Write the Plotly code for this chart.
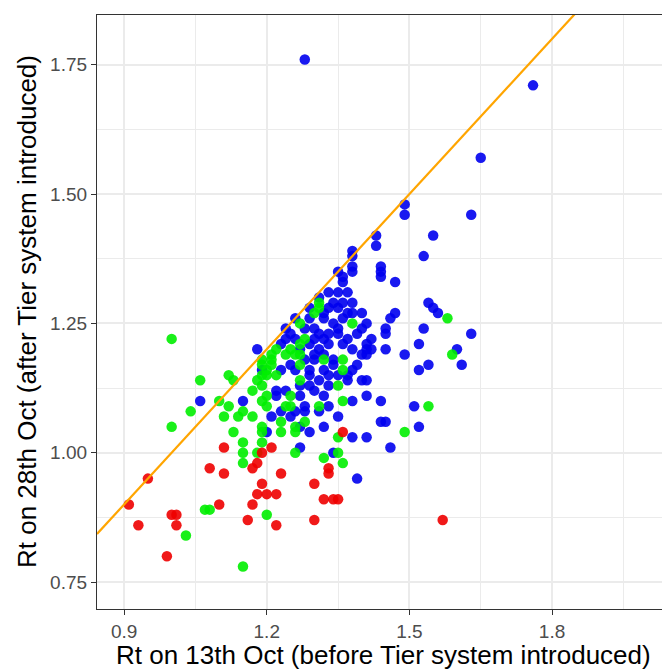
import plotly.graph_objects as go

# ---- data ----
blue_x = [1.28, 1.76, 1.65, 1.49, 1.49, 1.63, 1.43, 1.43, 1.55, 1.53, 1.38, 1.38, 1.44, 1.44, 1.44,
          1.38, 1.38, 1.47, 1.35, 1.36, 1.36, 1.33, 1.35, 1.37, 1.34, 1.38, 1.54, 1.55, 1.56, 1.47,
          1.46, 1.40, 1.41, 1.40, 1.45, 1.45, 1.53, 1.63, 1.52, 1.60, 1.61, 1.54, 1.52, 1.49, 1.45,
          1.42, 1.41, 1.40, 1.41, 1.37, 1.36, 1.40, 1.41, 1.38, 1.41, 1.44, 1.32, 1.51, 1.44, 1.45,
          1.52, 1.38, 1.41, 1.46, 1.34, 1.39, 1.31, 1.28, 1.18, 1.24, 1.26, 1.29, 1.32, 1.32, 1.36,
          1.35, 1.35, 1.30, 1.31, 1.30, 1.32, 1.33, 1.42, 1.41, 1.06, 1.15, 1.20, 1.21, 1.27, 1.27,
          1.22, 1.22, 1.19, 1.26, 1.28, 1.29, 1.24, 1.27, 1.34, 1.37, 1.37, 1.25, 1.32, 1.35, 1.27,
          1.29, 1.31, 1.33, 1.30, 1.29, 1.31, 1.33, 1.28, 1.26, 1.24, 1.25, 1.29, 1.35, 1.36, 1.38,
          1.23, 1.23, 1.30, 1.33, 1.35, 1.29, 1.32, 1.25, 1.23, 1.26, 1.28, 1.30, 1.32, 1.34, 1.29,
          1.33, 1.27, 1.34, 1.37, 1.33, 1.31, 1.39, 1.38, 1.39, 1.38]
blue_y = [1.76, 1.71, 1.57, 1.48, 1.46, 1.46, 1.42, 1.40, 1.42, 1.38, 1.39, 1.38, 1.36, 1.35, 1.34,
          1.36, 1.35, 1.33, 1.35, 1.34, 1.33, 1.31, 1.31, 1.31, 1.29, 1.29, 1.29, 1.28, 1.27, 1.27,
          1.26, 1.27, 1.25, 1.24, 1.24, 1.23, 1.24, 1.23, 1.21, 1.20, 1.17, 1.17, 1.16, 1.19, 1.20,
          1.22, 1.21, 1.19, 1.20, 1.22, 1.21, 1.14, 1.14, 1.10, 1.11, 1.10, 1.11, 1.09, 1.06, 1.06,
          1.05, 1.03, 1.03, 1.01, 1.00, 0.95, 1.08, 1.08, 1.20, 1.24, 1.26, 1.28, 1.27, 1.26, 1.26,
          1.24, 1.23, 1.24, 1.23, 1.22, 1.22, 1.23, 1.20, 1.19, 1.10, 1.10, 1.04, 1.07, 1.05, 1.01,
          1.12, 1.11, 1.16, 1.08, 1.09, 1.13, 1.12, 1.11, 1.18, 1.15, 1.14, 1.17, 1.16, 1.15, 1.20,
          1.21, 1.20, 1.21, 1.18, 1.16, 1.14, 1.13, 1.18, 1.16, 1.22, 1.23, 1.26, 1.28, 1.29, 1.27,
          1.21, 1.16, 1.12, 1.09, 1.07, 1.04, 1.05, 1.07, 1.08, 1.22, 1.24, 1.19, 1.19, 1.17, 1.15,
          1.15, 1.13, 1.25, 1.27, 1.28, 1.30, 1.23, 1.20, 1.17, 1.16]

green_x = [1.00, 1.00, 1.04, 1.06, 1.03, 1.07, 1.08, 1.15, 1.20, 1.10, 1.12, 1.11, 1.14, 1.15, 1.17,
           1.13, 1.15, 1.15, 1.15, 1.17, 1.12, 1.13, 1.19, 1.19, 1.19, 1.18, 1.23, 1.23, 1.26, 1.26,
           1.28, 1.26, 1.35, 1.32, 1.36, 1.35, 1.36, 1.35, 1.31, 1.25, 1.25, 1.24, 1.18, 1.19, 1.19,
           1.19, 1.21, 1.22, 1.20, 1.20, 1.19, 1.20, 1.19, 1.21, 1.21, 1.20, 1.22, 1.27, 1.30, 1.31,
           1.31, 1.25, 1.26, 1.27, 1.28, 1.27, 1.32, 1.36, 1.36, 1.27, 1.38, 1.58, 1.59, 1.54, 1.49,
           1.24, 1.27]
green_y = [1.22, 1.05, 1.08, 1.14, 0.84, 0.89, 0.89, 0.78, 0.88, 1.10, 1.09, 1.07, 1.07, 1.08, 1.07,
           1.04, 1.02, 1.00, 0.98, 1.12, 1.15, 1.14, 1.05, 1.04, 1.02, 1.00, 1.06, 1.04, 1.05, 1.04,
           1.06, 1.00, 1.00, 0.99, 0.98, 1.03, 1.10, 1.13, 1.09, 1.11, 1.09, 1.09, 1.14, 1.15, 1.13,
           1.18, 1.18, 1.15, 1.16, 1.11, 1.10, 1.09, 1.17, 1.19, 1.17, 1.15, 1.20, 1.25, 1.27, 1.28,
           1.29, 1.20, 1.19, 1.21, 1.22, 1.17, 1.18, 1.18, 1.16, 1.14, 1.25, 1.26, 1.19, 1.09, 1.04,
           1.19, 1.19]

red_x = [0.91, 0.95, 0.93, 0.99, 1.00, 1.01, 1.01, 1.10, 1.08, 1.11, 1.11, 1.16, 1.17, 1.18, 1.20,
         1.22, 1.19, 1.23, 1.17, 1.18, 1.19, 1.21, 1.22, 1.30, 1.30, 1.32, 1.34, 1.35, 1.33, 1.33,
         1.36, 1.57]
red_y = [0.90, 0.95, 0.86, 0.80, 0.88, 0.88, 0.86, 0.90, 0.97, 0.96, 1.01, 0.87, 0.90, 0.92, 0.92,
         0.92, 0.94, 0.96, 0.97, 0.98, 1.00, 1.01, 0.86, 0.94, 0.87, 0.91, 0.91, 0.91, 0.97, 0.96,
         1.04, 0.87]

x_ticks = [0.9, 1.2, 1.5, 1.8]
x_tick_labels = ["0.9", "1.2", "1.5", "1.8"]
x_minor = [1.05, 1.35, 1.65, 1.95]
y_ticks = [0.75, 1.00, 1.25, 1.50, 1.75]
y_tick_labels = ["0.75", "1.00", "1.25", "1.50", "1.75"]
y_minor = [0.875, 1.125, 1.375, 1.625]

x_range = [0.843, 2.048]
y_range = [0.698, 1.846]

x_title = "Rt on 13th Oct (before Tier system introduced)"
y_title = "Rt on 28th Oct (after Tier system introduced)"

FONT = "Liberation Sans, Arial, sans-serif"

fig = go.Figure()

def add_points(xs, ys, color):
    fig.add_trace(go.Scatter(
        x=xs, y=ys, mode="markers",
        marker=dict(size=10.5, color=color, line=dict(width=0)),
        showlegend=False, hoverinfo="skip"))

add_points(blue_x, blue_y, "rgba(0,0,238,0.9)")
add_points(green_x, green_y, "rgba(0,238,0,0.9)")
add_points(red_x, red_y, "rgba(238,0,0,0.9)")

# identity line y = x across the panel
fig.add_trace(go.Scatter(
    x=x_range, y=x_range, mode="lines",
    line=dict(color="#FFA500", width=2.2),
    showlegend=False, hoverinfo="skip"))

grid = "#EBEBEB"
# the page body adds an 8px offset, so the figure is 8px smaller and margins shifted
fig.update_layout(
    width=662, height=661,
    margin=dict(l=89, r=0, t=7, b=60, autoexpand=False),
    paper_bgcolor="white", plot_bgcolor="white",
    font=dict(family=FONT, color="black"),
    xaxis=dict(
        range=x_range, tickvals=x_ticks, ticktext=x_tick_labels, automargin=False,
        showgrid=True, gridcolor=grid, gridwidth=1.6,
        minor=dict(tickvals=x_minor, showgrid=True, gridcolor=grid, gridwidth=0.8, ticks=""),
        zeroline=False, showline=True, linecolor="#333333", linewidth=1.2, mirror=True,
        ticks="outside", ticklen=5, tickcolor="#333333", tickwidth=1.1,
        tickfont=dict(size=19, color="#4D4D4D"),
    ),
    yaxis=dict(
        range=y_range, tickvals=y_ticks, ticktext=y_tick_labels, automargin=False,
        showgrid=True, gridcolor=grid, gridwidth=1.6,
        minor=dict(tickvals=y_minor, showgrid=True, gridcolor=grid, gridwidth=0.8, ticks=""),
        zeroline=False, showline=True, linecolor="#333333", linewidth=1.2, mirror=False,
        ticks="outside", ticklen=5, tickcolor="#333333", tickwidth=1.1,
        tickfont=dict(size=19, color="#4D4D4D"),
    ),
    annotations=[
        dict(text=x_title, xref="paper", yref="paper", x=0.5, y=0, yshift=-46,
             xanchor="center", yanchor="middle", showarrow=False,
             font=dict(size=26, color="black")),
        dict(text=y_title, xref="paper", yref="paper", x=0, y=0.5, xshift=-70,
             xanchor="center", yanchor="middle", textangle=-90, showarrow=False,
             font=dict(size=26, color="black")),
    ],
)

fig.write_html("out.html")
